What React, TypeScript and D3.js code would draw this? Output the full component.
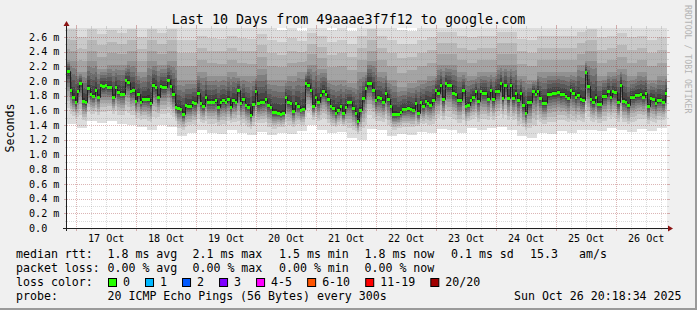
import React from "react";
import * as d3 from "d3";

// ---------------- data ----------------
const medianRtt = [
  2.14, 1.88, 1.79, 1.71, 1.86, 1.98, 1.73, 1.71, 1.91, 1.82,
  1.80, 1.88, 1.79, 1.94, 1.93, 1.94, 1.92, 1.92, 1.79, 1.92,
  1.85, 1.83, 1.83, 2.01, 1.99, 1.87, 1.88, 1.73, 1.82, 1.72,
  1.76, 1.76, 1.76, 1.70, 1.95, 1.92, 1.79, 1.93, 1.92, 1.92,
  2.01, 1.93, 1.82, 1.65, 1.63, 1.62, 1.55, 1.67, 1.66, 1.66,
  1.72, 1.70, 1.84, 1.70, 1.66, 1.79, 1.72, 1.72, 1.72, 1.74,
  1.65, 1.72, 1.74, 1.71, 1.76, 1.65, 1.74, 1.72, 1.88, 1.70,
  1.76, 1.67, 1.65, 1.54, 1.69, 1.87, 1.70, 1.71, 1.72, 1.75,
  1.67, 1.65, 1.58, 1.58, 1.57, 1.55, 1.57, 1.78, 1.71, 1.70,
  1.59, 1.70, 1.66, 1.61, 1.62, 1.98, 1.95, 1.88, 1.66, 1.79,
  1.72, 1.81, 1.87, 1.83, 1.76, 1.66, 1.63, 1.56, 1.61, 1.66,
  1.56, 1.65, 1.71, 1.71, 1.63, 1.56, 1.46, 1.60, 1.77, 1.90,
  1.98, 1.98, 1.88, 1.74, 1.78, 1.77, 1.72, 1.84, 1.76, 1.66,
  1.55, 1.55, 1.55, 1.58, 1.62, 1.62, 1.63, 1.62, 1.61, 1.70,
  1.56, 1.72, 1.66, 1.73, 1.70, 1.68, 1.74, 1.88, 1.84, 1.95,
  1.75, 1.97, 1.94, 1.94, 1.84, 1.82, 1.74, 1.74, 1.88, 1.66,
  1.68, 1.74, 1.78, 1.86, 1.73, 1.86, 1.84, 1.84, 1.76, 1.88,
  1.75, 1.87, 1.87, 1.97, 1.77, 1.94, 1.77, 1.95, 1.77, 1.84,
  1.74, 1.84, 1.67, 1.56, 1.71, 1.71, 1.87, 1.82, 1.87, 1.77,
  1.70, 1.70, 1.82, 1.83, 1.84, 1.84, 1.85, 1.82, 1.83, 1.80,
  1.77, 1.88, 1.84, 1.78, 1.81, 1.75, 1.74, 2.13, 1.93, 1.75,
  1.71, 1.78, 1.69, 1.69, 1.80, 1.80, 1.86, 1.78, 1.86, 1.85,
  1.71, 1.95, 1.73, 1.72, 1.67, 1.78, 1.78, 1.81, 1.81, 1.82,
  1.79, 1.84, 1.66, 1.77, 1.75, 1.70, 1.74, 1.74, 1.72, 1.84,
];

// smoke envelope (lowest ping, upper-quartile ping, highest ping), one value per 4 hourly points
const smokeLow = [
  1.42, 1.36, 1.45, 1.43, 1.46, 1.42, 1.40, 1.37, 1.33, 1.40,
  1.38, 1.25, 1.29, 1.33, 1.30, 1.28, 1.33, 1.29, 1.27, 1.31,
  1.26, 1.30, 1.28, 1.32, 1.40, 1.34, 1.29, 1.31, 1.22, 1.20,
  1.35, 1.33, 1.25, 1.28, 1.27, 1.31, 1.29, 1.35, 1.33, 1.30,
  1.36, 1.33, 1.36, 1.38, 1.34, 1.25, 1.22, 1.30, 1.28, 1.32,
  1.30, 1.33, 1.34, 1.32, 1.36, 1.33, 1.31, 1.35, 1.32, 1.36,
];
const smokeUpper = [
  2.27, 2.12, 2.27, 2.17, 2.22, 2.22, 2.27, 2.12, 2.27, 2.22,
  2.27, 2.02, 2.02, 2.12, 2.07, 2.07, 2.12, 2.07, 2.07, 2.17,
  2.02, 2.02, 2.07, 2.12, 2.22, 2.17, 2.02, 2.02, 1.97, 2.12,
  2.27, 2.12, 2.02, 1.92, 1.97, 2.02, 2.07, 2.22, 2.22, 2.12,
  2.07, 2.12, 2.12, 2.22, 2.22, 2.07, 2.02, 2.12, 2.12, 2.12,
  2.12, 2.22, 2.27, 2.07, 2.12, 2.17, 2.07, 2.12, 2.02, 2.07,
];
const smokeTop = [
  2.85, 2.76, 2.85, 2.80, 2.85, 2.80, 2.85, 2.76, 2.85, 2.80,
  2.85, 2.74, 2.74, 2.78, 2.76, 2.74, 2.78, 2.76, 2.74, 2.80,
  2.74, 2.70, 2.76, 2.68, 2.80, 2.76, 2.70, 2.74, 2.68, 2.78,
  2.85, 2.78, 2.74, 2.70, 2.68, 2.74, 2.78, 2.82, 2.82, 2.78,
  2.78, 2.78, 2.78, 2.82, 2.82, 2.74, 2.74, 2.78, 2.78, 2.78,
  2.78, 2.82, 2.85, 2.78, 2.78, 2.82, 2.78, 2.78, 2.74, 2.78,
];
const pointsPerSmokeBlock = 4;

const yLabelValues = [0, 0.2, 0.4, 0.6, 0.8, 1.0, 1.2, 1.4, 1.6, 1.8, 2.0, 2.2, 2.4, 2.6];
const yLabelTexts = ["0.0", "0.2 m", "0.4 m", "0.6 m", "0.8 m", "1.0 m", "1.2 m", "1.4 m", "1.6 m", "1.8 m", "2.0 m", "2.2 m", "2.4 m", "2.6 m"];
const dayLabelDays = [17, 18, 19, 20, 21, 22, 23, 24, 25, 26];
const dayLabels = ["17 Oct", "18 Oct", "19 Oct", "20 Oct", "21 Oct", "22 Oct", "23 Oct", "24 Oct", "25 Oct", "26 Oct"];

const titleText = "Last 10 Days from 49aaae3f7f12 to google.com";
const yTitle = "Seconds";
const rttLegend = ["median rtt:", "1.8 ms avg", "2.1 ms max", "1.5 ms min", "1.8 ms now", "0.1 ms sd", "15.3", "am/s"];
const lossLegend = ["packet loss:", "0.00 % avg", "0.00 % max", "0.00 % min", "0.00 % now"];
const lossColorLabels = ["0", "1", "2", "3", "4-5", "6-10", "11-19", "20/20"];
const lossColors = ["#26ff00", "#00b8ff", "#0059ff", "#7e00ff", "#ff00ff", "#ff5500", "#ff0000", "#a00000"];
const probeText = "20 ICMP Echo Pings (56 Bytes) every 300s";
const stampText = "Sun Oct 26 20:18:34 2025";
const watermark = "RRDTOOL / TOBI OETIKER";

// ---------------- layout ----------------
const W = 697;
const H = 310;
const PL = 67, PR = 667, PT = 28, PB = 228;
const Y_TOP = 2.7226;
const endDate = new Date(Date.UTC(2025, 9, 26, 20, 18, 34));
const startDate = new Date(endDate.getTime() - 10 * 86400000);
const stepMs = 3600000;
const FONT = "'DejaVu Sans Mono', monospace";
const legendCols = [16, 107.5, 192.5, 279, 364.5, 451, 530, 579];
const greys = [221, 202, 183, 164, 145, 126, 107, 88, 69, 50];
const GRID = "rgba(140,140,140,0.32)";
const MGRID = "rgba(150,30,30,0.33)";

export default function App() {
  const x = d3.scaleUtc().domain([startDate, endDate]).range([PL, PR]);
  const y = d3.scaleLinear().domain([0, Y_TOP]).range([PB, PT]);

  const cols = medianRtt.map((m, i) => {
    const t0 = new Date(startDate.getTime() + i * stepMs);
    const t1 = new Date(startDate.getTime() + (i + 1) * stepMs);
    const x0 = Math.round(x(t0));
    const x1 = Math.round(x(t1));
    const b = Math.floor(i / pointsPerSmokeBlock);
    const lo = Math.min(smokeLow[b], m - 0.12);
    const q3 = Math.max(smokeUpper[b], m + 0.15);
    const hi = Math.max(smokeTop[b], q3 + 0.2);
    // rank r (1..20) -> ping value, from the three envelope values and the median
    const p = (r: number) =>
      r <= 10.5
        ? lo + Math.pow((r - 1) / 9.5, 0.55) * (m - lo)
        : r <= 16
        ? m + ((r - 10.5) / 5.5) * (q3 - m)
        : q3 + ((r - 16) / 4) * (hi - q3);
    return { x0, x1, m, p };
  });

  const stepLine = d3
    .line<[number, number]>()
    .x((d) => d[0])
    .y((d) => d[1])
    .curve(d3.curveStepAfter);
  const linePts: [number, number][] = cols.map((c) => [c.x0 + 0.5, Math.round(y(c.m)) + 0.5]);
  const last = cols[cols.length - 1];
  linePts.push([last.x1, Math.round(y(last.m)) + 0.5]);

  // grid
  const hGrid: { yy: number; major: boolean }[] = [];
  for (let k = 1; k <= 27; k++) {
    const v = k / 10;
    if (v > Y_TOP) continue;
    hGrid.push({ yy: Math.round(y(v)) + 0.5, major: k % 2 === 0 });
  }
  const vGrid: { xx: number; major: boolean }[] = [];
  const firstDay = d3.utcDay.ceil(startDate);
  for (let t = firstDay.getTime(); t < endDate.getTime(); t += 6 * 3600000) {
    const d = new Date(t);
    vGrid.push({ xx: Math.round(x(d)) + 0.5, major: d.getUTCHours() === 0 });
  }

  const lossItems = lossColorLabels.map((lab, i) => {
    const before = lossColorLabels.slice(0, i).reduce((s, l) => s + 30 + 7.02 * l.length, 0);
    return { lab, color: lossColors[i], bx: 108.5 + before };
  });

  return (
    <div style={{ width: W, height: H }}>
      <style>{`body{margin:0;}`}</style>
      <svg width={W} height={H} style={{ display: "block" }} fontFamily={FONT}>
        <rect x={0} y={0} width={W} height={H} fill="#f0f0f0" />
        <rect x={W - 2} y={0} width={2} height={H} fill="#9a9a9a" />
        <rect x={0} y={H - 2} width={W} height={2} fill="#9a9a9a" />
        <rect x={PL} y={PT} width={PR - PL} height={PB - PT} fill="#ffffff" />
        <defs>
          <clipPath id="plotclip">
            <rect x={PL} y={PT} width={PR - PL} height={PB - PT} />
          </clipPath>
        </defs>
        <g clipPath="url(#plotclip)" shapeRendering="crispEdges">
          {cols.map((c, i) =>
            greys.map((g, j) => {
              const top = y(c.p(20 - j));
              const bot = y(c.p(j + 1));
              return (
                <rect
                  key={i + "-" + j}
                  x={c.x0}
                  width={c.x1 - c.x0}
                  y={top}
                  height={Math.max(0, bot - top)}
                  fill={`rgb(${g},${g},${g})`}
                />
              );
            })
          )}
        </g>
        <g clipPath="url(#plotclip)">
          <path d={stepLine(linePts) || ""} fill="none" stroke="#202020" strokeWidth={1} />
          {cols.map((c, i) => (
            <rect
              key={"g" + i}
              x={c.x0}
              width={c.x1 - c.x0}
              y={Math.round(y(c.m)) - 1}
              height={3}
              fill={lossColors[0]}
              shapeRendering="crispEdges"
            />
          ))}
        </g>
        {/* grid */}
        <g>
          {hGrid.map((g, i) => (
            <g key={"h" + i}>
              <line x1={PL} x2={PR} y1={g.yy} y2={g.yy} stroke={g.major ? MGRID : GRID} strokeDasharray="1,1" />
              <line x1={PL - (g.major ? 3 : 2)} x2={PL} y1={g.yy} y2={g.yy} stroke={g.major ? MGRID : GRID} />
              <line x1={PR} x2={PR + (g.major ? 3 : 2)} y1={g.yy} y2={g.yy} stroke={g.major ? MGRID : GRID} />
            </g>
          ))}
          {vGrid.map((g, i) => (
            <g key={"v" + i}>
              <line x1={g.xx} x2={g.xx} y1={PT} y2={PB} stroke={g.major ? MGRID : GRID} strokeDasharray="1,1" />
              <line x1={g.xx} x2={g.xx} y1={PB} y2={PB + (g.major ? 3 : 2)} stroke={g.major ? MGRID : GRID} />
              <line x1={g.xx} x2={g.xx} y1={PT - (g.major ? 3 : 2)} y2={PT} stroke={g.major ? MGRID : GRID} />
            </g>
          ))}
        </g>
        {/* axes */}
        <line x1={PL - 0.5} x2={PL - 0.5} y1={PB + 3} y2={PT - 5} stroke="#202020" />
        <line x1={PL - 4} x2={PR + 2} y1={PB + 0.5} y2={PB + 0.5} stroke="#202020" />
        <path d={`M${PL - 3.5},${PT - 2} L${PL + 2.5},${PT - 2} L${PL - 0.5},${PT - 7} Z`} fill="#8c1414" />
        <path d={`M${PR + 1},${PB - 2.5} L${PR + 1},${PB + 3.5} L${PR + 6},${PB + 0.5} Z`} fill="#8c1414" />
        {/* y labels */}
        {yLabelValues.map((v, i) => (
          <text key={"yl" + i} x={29} y={y(v) + 3.6} fontSize={10.1} fill="#000">
            {yLabelTexts[i]}
          </text>
        ))}
        {/* x labels */}
        {dayLabelDays.map((d, i) => (
          <text
            key={"xl" + i}
            x={x(new Date(Date.UTC(2025, 9, d, 12)))}
            y={241.5}
            fontSize={10.1}
            textAnchor="middle"
            fill="#000"
          >
            {dayLabels[i]}
          </text>
        ))}
        <text x={W / 2} y={24} fontSize={13.35} textAnchor="middle" fill="#000">
          {titleText}
        </text>
        <text transform="translate(13.5,128) rotate(-90)" fontSize={11.6} textAnchor="middle" fill="#000">
          {yTitle}
        </text>
        <text transform="translate(685,5) rotate(90)" fontSize={8.2} fill="#b4b4b4">
          {watermark}
        </text>
        {/* legend */}
        <g fontSize={11.6} fill="#000">
          {rttLegend.map((s, i) => (
            <text key={"r" + i} x={legendCols[i]} y={258}>
              {s}
            </text>
          ))}
          {lossLegend.map((s, i) => (
            <text key={"l" + i} x={legendCols[i]} y={272}>
              {s}
            </text>
          ))}
          <text x={legendCols[0]} y={286}>loss color:</text>
          {lossItems.map((it, i) => (
            <g key={"lc" + i}>
              <rect x={it.bx} y={278.5} width={8} height={8} fill={it.color} stroke="#000" strokeWidth={1} />
              <text x={it.bx + 14.5} y={286}>
                {it.lab}
              </text>
            </g>
          ))}
          <text x={legendCols[0]} y={300}>probe:</text>
          <text x={legendCols[1]} y={300}>{probeText}</text>
          <text x={681.5} y={300} textAnchor="end">
            {stampText}
          </text>
        </g>
      </svg>
    </div>
  );
}
